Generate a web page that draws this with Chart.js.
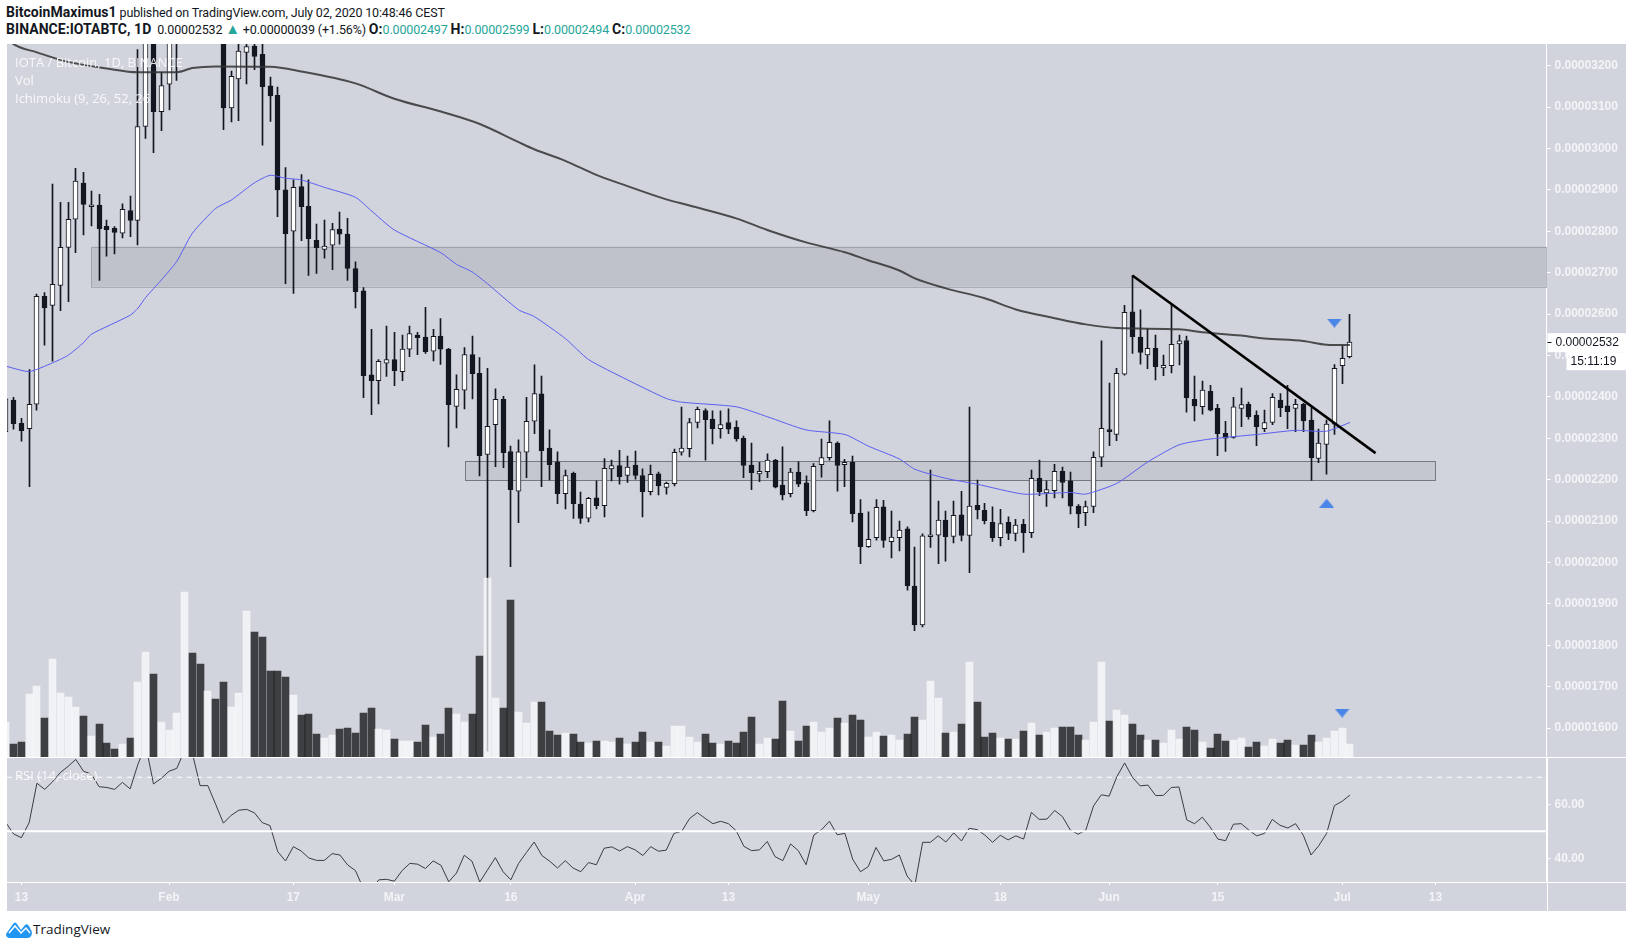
<!DOCTYPE html>
<html>
<head>
<meta charset="utf-8">
<title>IOTABTC</title>
<script src="https://cdn.jsdelivr.net/npm/chart.js@4/dist/chart.umd.min.js"></script>
<style>
    html, body { margin: 0; background: #fff; width: 1633px; height: 948px; overflow: hidden; }
    body { position: relative; font-family: "Open Sans", "Noto Sans", sans-serif; color: #131722; }
    #panel { position: absolute; left: 7px; top: 44px; width: 1619px; height: 867px; background: #d1d4dc; }
    canvas { position: absolute; left: 7px; }
    #priceChart { top: 44px; }
    #rsiChart { top: 757px; }
    .head { position: absolute; left: 6px; font-family: Roboto, sans-serif; font-size: 12.5px; letter-spacing: -0.15px; line-height: 18px; white-space: nowrap; }
    .head b { font-weight: 700; font-size: 14px; letter-spacing: 0.05px; }
    .teal { color: #26a69a; }
    .arrow { font-size: 15px; line-height: 14px; }
    .pane { position: absolute; left: 15px; font-size: 13px; line-height: 16px; color: rgba(255, 255, 255, 0.85); white-space: nowrap; z-index: 5; }
    #logo { position: absolute; left: 6px; top: 921px; }
    #brand { position: absolute; left: 33px; top: 920px; font-size: 13.5px; line-height: 18px; }
</style>
</head>
<body>
<div class="head" style="top:3px"><b>BitcoinMaximus1</b> published on TradingView.com, July 02, 2020 10:48:46 CEST</div>
<div class="head" style="top:20px"><b>BINANCE:IOTABTC, 1D</b>&nbsp; 0.00002532 <span class="teal arrow">▲</span> +0.00000039 (+1.56%) <b>O:</b><span class="teal">0.00002497</span> <b>H:</b><span class="teal">0.00002599</span> <b>L:</b><span class="teal">0.00002494</span> <b>C:</b><span class="teal">0.00002532</span></div>
<div id="panel"></div>
<canvas id="priceChart" width="1619" height="713"></canvas>
<canvas id="rsiChart" width="1619" height="154"></canvas>
<div class="pane" style="top:54px">IOTA / Bitcoin, 1D, BINANCE</div>
<div class="pane" style="top:72px">Vol</div>
<div class="pane" style="top:90px">Ichimoku (9, 26, 52, 26</div>
<div class="pane" style="top:767px">RSI (14, close)</div>
<svg id="logo" width="26" height="17" viewBox="0 0 26 17"><path d="M0 13 L7 3 Q9 0 11 3 L15 9 L19 4 Q21 2 23 5 L26 11 Q26 17 21 17 L4 17 Q0 17 0 13 Z" fill="#2196f3"/><path d="M3 12 L9 5 L15 12 L20 7 L24 12" fill="none" stroke="#fff" stroke-width="1.5"/></svg>
<div id="brand">TradingView</div>

<script>
// prices are in satoshi (1e-8 BTC), one entry per day starting two days before Jan 13
const firstDay = -2;
const opens = [
    2316,2392,2336,2323,2382,2643,2621,2669,2761,2829,
    2916,2859,2863,2812,2807,2795,2850,2826,3053,3330,
    3089,3155,3280,3300,3420,3380,3340,3390,3350,3098,
    3168,3232,3247,3227,3151,3128,2900,2800,2908,2860,
    2778,2756,2766,2805,2793,2710,2656,2453,2439,2481,
    2490,2461,2515,2549,2544,2510,2547,2515,2377,2416,
    2502,2457,2261,2333,2394,2268,2172,2266,2341,2407,
    2276,2243,2166,2215,2141,2107,2156,2137,2226,2234,
    2210,2235,2210,2171,2214,2181,2190,2266,2275,2338,
    2367,2346,2323,2338,2326,2300,2235,2214,2219,2247,
    2187,2166,2218,2192,2125,2236,2253,2288,2236,2242,
    2119,2038,2060,2134,2050,2060,2081,1943,1849,2062,
    2066,2102,2063,2115,2065,2138,2126,2097,2060,2097,
    2070,2092,2072,2203,2168,2173,2220,2197,2136,2120,
    2135,2254,2320,2309,2455,2605,2544,2501,2517,2470,
    2475,2528,2536,2394,2376,2413,2372,2312,2302,2372,
    2382,2356,2323,2338,2392,2378,2372,2382,2344,2251,
    2285,2334,2475,2497
];
const highs = [
    2400,2399,2348,2466,2648,2652,2914,2870,2870,2952,
    2942,2897,2889,2827,2811,2866,2885,3239,3400,3400,
    3183,3350,3380,3480,3450,3400,3420,3420,3380,3187,
    3290,3290,3280,3280,3172,3148,2954,2924,2937,2924,
    2817,2827,2819,2846,2831,2726,2664,2563,2490,2571,
    2556,2549,2571,2556,2616,2563,2589,2517,2453,2519,
    2547,2495,2469,2419,2401,2281,2296,2399,2477,2450,
    2320,2267,2223,2218,2170,2157,2197,2251,2247,2271,
    2257,2269,2226,2235,2218,2194,2274,2375,2348,2375,
    2371,2366,2366,2371,2342,2305,2288,2242,2262,2249,
    2279,2227,2243,2209,2239,2298,2342,2291,2249,2257,
    2152,2122,2152,2150,2124,2100,2086,2037,2069,2223,
    2148,2124,2148,2172,2375,2199,2143,2134,2128,2110,
    2104,2104,2223,2247,2197,2237,2230,2218,2140,2148,
    2267,2535,2433,2469,2621,2693,2610,2565,2549,2501,
    2621,2549,2547,2450,2438,2428,2382,2341,2399,2421,
    2387,2366,2368,2408,2408,2428,2394,2384,2374,2322,
    2344,2478,2523,2599
];
const lows = [
    2310,2322,2293,2183,2368,2525,2486,2608,2630,2748,
    2791,2813,2681,2740,2745,2784,2787,2767,3024,2990,
    3043,3093,3164,3270,3340,3300,3310,3320,3045,3064,
    3067,3156,3190,3008,3065,2835,2673,2650,2777,2693,
    2698,2735,2707,2769,2681,2615,2398,2357,2383,2449,
    2427,2439,2497,2502,2505,2487,2478,2279,2325,2371,
    2395,2209,1544,2231,2229,1990,2096,2205,2311,2183,
    2199,2142,2129,2106,2094,2098,2129,2110,2197,2189,
    2193,2201,2110,2163,2163,2165,2185,2259,2255,2325,
    2247,2286,2300,2311,2293,2205,2176,2195,2205,2180,
    2151,2158,2183,2113,2122,2206,2247,2172,2183,2098,
    1997,2036,2054,2036,2011,2028,1933,1835,1844,2036,
    1997,2003,2047,2052,1975,2105,2093,2051,2040,2055,
    2052,2024,2060,2161,2135,2156,2156,2117,2084,2089,
    2120,2231,2282,2294,2452,2505,2479,2468,2441,2451,
    2458,2477,2363,2342,2358,2366,2258,2268,2300,2328,
    2346,2282,2316,2333,2352,2323,2316,2316,2198,2241,
    2213,2309,2432,2494
];
const closes = [
    2395,2335,2318,2382,2643,2615,2672,2761,2829,2921,
    2865,2861,2806,2804,2797,2853,2826,3053,3330,3089,
    3152,3300,3300,3420,3380,3340,3390,3350,3098,3174,
    3235,3246,3222,3149,3127,2900,2794,2906,2859,2782,
    2760,2764,2804,2793,2710,2654,2451,2439,2486,2490,
    2463,2515,2553,2543,2509,2546,2515,2381,2418,2502,
    2456,2258,2329,2394,2265,2176,2267,2341,2408,2270,
    2236,2166,2210,2142,2106,2155,2137,2227,2234,2207,
    2230,2210,2171,2213,2185,2191,2266,2276,2338,2370,
    2345,2323,2333,2322,2298,2234,2217,2220,2247,2182,
    2163,2218,2189,2125,2232,2253,2290,2234,2242,2118,
    2038,2056,2133,2053,2061,2078,1944,1849,2064,2066,
    2102,2062,2114,2065,2136,2127,2101,2060,2094,2070,
    2090,2072,2203,2170,2176,2220,2193,2136,2117,2135,
    2254,2324,2316,2457,2604,2545,2507,2517,2473,2476,
    2527,2535,2398,2378,2416,2368,2311,2300,2376,2381,
    2352,2328,2338,2399,2374,2364,2382,2342,2253,2288,
    2334,2469,2493,2532
];
const volumes = [
    105,39,45,189,213,117,294,192,180,150,
    123,63,99,42,24,39,57,225,315,249,
    105,81,132,495,312,279,198,174,225,150,
    192,438,375,360,258,258,240,186,126,129,
    69,57,66,84,87,72,132,147,84,81,
    54,48,48,45,96,60,69,147,129,105,
    129,303,537,177,147,471,135,102,165,165,
    78,66,72,69,45,42,48,48,45,57,
    39,45,75,45,45,33,93,93,60,45,
    69,42,39,48,42,75,120,39,57,54,
    168,78,48,93,105,75,87,117,102,126,
    111,60,75,63,66,51,69,120,111,228,
    177,72,75,99,285,165,60,72,57,54,
    54,78,102,66,75,87,90,90,66,51,
    105,285,108,141,126,99,66,51,51,42,
    81,54,90,81,45,27,69,48,51,57,
    30,45,33,54,42,51,36,36,66,45,
    57,78,87,39
];
const rsiValues = [
    53.2,49,47.6,53.2,67.8,65.5,68.3,71.7,74,76.6,
    72.2,71.2,66.5,66.2,65.5,68.1,65.7,74.8,82,67.5,
    69.6,72.2,73.3,80,78.9,66.9,66.9,60,53,55.9,
    57.8,58.1,56.8,53.2,52.1,42.4,39,44.3,42.7,40.1,
    39.2,39.2,41.7,41.2,37.5,35.4,28.9,28.3,32,32.2,
    31.5,35.4,38.1,37.8,36.2,39,37.4,31.3,34.5,41.1,
    38.9,31.2,35.7,40.2,35,32,38.1,42.1,46,41,
    38.9,36.4,39.1,36.4,35,38.4,37.6,43.7,44.2,42.7,
    44.3,43.1,41,44.3,42.6,43,49.2,50,54.7,56.9,
    54.8,52.8,53.7,52.8,50.2,44.4,42.8,43.1,46.2,40.6,
    39.1,45.3,42.8,37.6,48.6,50.6,53.7,48.7,49.2,39.6,
    35,36.9,44,39,39.6,41.2,33.4,30,45.9,45.9,
    48.3,46,49.4,46.4,51.1,50.6,48.6,45.9,48.5,46.8,
    48.3,47.1,57,54.4,54.5,57.7,55.4,50.5,48.9,50.4,
    59.4,63.5,63,70.2,75.3,70,66.8,67.1,63.2,63.3,
    66.2,66.4,54.2,52.8,55.2,51.6,47.1,46.5,52.6,52.8,
    50.4,48.3,49.2,54.4,52.2,51.2,52.8,48.5,41.2,44.7,
    49.2,59.5,61.1,63.4
];

const slowMaDays = [-2,-1,2,6,11,15,20,22,25,32,36,43,48,54,59,64,66,70,74,78,83,86,92,96,101,106,109,113,115,119,124,128,133,137,141,149,152,157,160,165,168,171];
const slowMaValues = [3270,3252,3232,3209,3193,3184,3184,3194,3198,3197,3186,3157,3120,3089,3059,3015,2998,2970,2936,2909,2877,2862,2831,2803,2773,2749,2730,2705,2686,2662,2638,2611,2590,2575,2566,2563,2556,2548,2541,2535,2526,2525];
const fastMaDays = [-2,1,4,6,8,9,14,15,16,18,20,22,25,27,30,32,34,36,39,43,45,48,54,56,58,60,64,66,70,73,78,83,85,92,96,101,106,109,113,115,119,123,129,135,137,141,145,149,153,159,164,168,171];
const fastMaValues = [2474,2461,2482,2500,2531,2551,2597,2614,2640,2682,2727,2795,2855,2875,2917,2935,2928,2924,2906,2882,2850,2803,2748,2720,2702,2673,2610,2594,2541,2490,2441,2396,2387,2376,2352,2320,2309,2281,2250,2225,2203,2189,2165,2169,2165,2191,2243,2284,2298,2309,2319,2317,2338];

const trendDays = [143, 174.3];
const trendValues = [2693, 2264];
const arrowDownDays = [169, 170];
const arrowDownValues = [2578, 1636];
const arrowUpDays = [168];
const arrowUpValues = [2143];

// shaded zones: first day, last day, top price, bottom price
const upperZone = [9, 197, 2763, 2666];
const lowerZone = [57.1, 182, 2244, 2198];

const priceTicks = [1600,1700,1800,1900,2000,2100,2200,2300,2400,2500,2600,2700,2800,2900,3000,3100,3200];
const rsiTicks = [40, 60];
const timeTickDays = [0, 19, 35, 48, 63, 79, 91, 109, 126, 140, 154, 170, 182];
const timeTickLabels = ['13', 'Feb', '17', 'Mar', '16', 'Apr', '13', 'May', '18', 'Jun', '15', 'Jul', '13'];
const lastPrice = 2532;

const dayMin = -1.853;
const dayMax = 196.3;
const candleDark = '#131722';
const axisText = '#f3f4f7';

function points(days, values) {
    return days.map((d, i) => ({ x: d, y: values[i] }));
}

const days = opens.map((_, i) => firstDay + i);
const isUp = closes.map((c, i) => c >= opens[i]);

function arrowImage(up) {
    const c = document.createElement('canvas');
    c.width = 15;
    c.height = 9;
    const g = c.getContext('2d');
    g.fillStyle = '#4a86e8';
    g.beginPath();
    if (up) {
        g.moveTo(7.5, 0); g.lineTo(15, 9); g.lineTo(0, 9);
    } else {
        g.moveTo(0, 0); g.lineTo(15, 0); g.lineTo(7.5, 9);
    }
    g.fill();
    return c;
}

// scale keeps half a label of padding at both ends by default, the plot has to fill the pane
function fitRightAxis(scale) {
    scale.width = 79.5;
    scale.paddingTop = 0;
    scale.paddingBottom = 0;
}

function fitTimeAxis(scale) {
    scale.height = 29;
    scale.paddingLeft = 0;
    scale.paddingRight = 0;
}

// keeps thin bars on whole pixels, otherwise wicks come out blurry
const snapBars = {
    id: 'snapBars',
    beforeDatasetsDraw(chart) {
        chart.getSortedVisibleDatasetMetas().forEach((meta) => {
            if (meta.type !== 'bar') return;
            meta.data.forEach((el) => { el.x = Math.floor(el.x) + 0.5; });
        });
    }
};

function drawZone(chart, zone, stroke, fill) {
    const ctx = chart.ctx;
    const x = chart.scales.x;
    const y = chart.scales.y;
    const left = x.getPixelForValue(zone[0]);
    const right = Math.min(x.getPixelForValue(zone[1]), chart.chartArea.right);
    const top = y.getPixelForValue(zone[2]);
    const bottom = y.getPixelForValue(zone[3]);
    ctx.fillStyle = fill;
    ctx.fillRect(left, top, right - left, bottom - top);
    ctx.strokeStyle = stroke;
    ctx.lineWidth = 1;
    ctx.strokeRect(Math.round(left) + 0.5, Math.round(top) + 0.5, Math.round(right - left), Math.round(bottom - top));
}

const zones = {
    id: 'zones',
    beforeDatasetsDraw(chart) {
        drawZone(chart, upperZone, 'rgba(120, 123, 134, 0.45)', 'rgba(120, 123, 134, 0.2)');
        drawZone(chart, lowerZone, 'rgba(90, 92, 98, 0.75)', 'rgba(120, 123, 134, 0.14)');
    }
};

const priceTag = {
    id: 'priceTag',
    afterDraw(chart) {
        const ctx = chart.ctx;
        const y = chart.scales.y.getPixelForValue(lastPrice);
        const left = chart.chartArea.right + 1;
        ctx.save();
        ctx.fillStyle = '#fff';
        ctx.fillRect(left, y - 9, 79, 19);
        ctx.fillRect(left + 19, y + 10, 60, 18);
        ctx.fillStyle = '#131722';
        ctx.fillRect(left, Math.round(y), 4, 1);
        ctx.font = '12px "Liberation Sans"';
        ctx.textBaseline = 'middle';
        ctx.fillText('0.00002532', left + 8, y + 1);
        ctx.fillText('15:11:19', left + 23, y + 20);
        ctx.restore();
    }
};

// pane separators and the part of the price scale border running past the plot
const rsiFrame = {
    id: 'rsiFrame',
    beforeDatasetsDraw(chart) {
        const ctx = chart.ctx;
        const area = chart.chartArea;
        ctx.save();
        ctx.fillStyle = 'rgba(255, 255, 255, 0.07)';
        const top = chart.scales.y.getPixelForValue(70);
        ctx.fillRect(area.left, top, area.right - area.left, area.bottom - top);
        ctx.restore();
    },
    afterDraw(chart) {
        const ctx = chart.ctx;
        const area = chart.chartArea;
        ctx.save();
        ctx.fillStyle = '#fff';
        ctx.fillRect(0, 0, chart.width, 1);
        ctx.fillRect(0, Math.round(area.bottom), chart.width, 1);
        ctx.fillRect(Math.round(area.right), 0, 1, chart.height);
        ctx.restore();
    }
};

function renderPriceChart() {
    const data = {
        datasets: [
            {
                type: 'bar',
                label: 'Vol',
                yAxisID: 'yVol',
                data: points(days, volumes),
                backgroundColor: isUp.map((u) => (u ? 'rgba(255, 255, 255, 0.7)' : 'rgba(0, 0, 0, 0.7)')),
                barThickness: 7,
                grouped: false,
                order: 2
            },
            {
                type: 'bar',
                label: 'wick',
                data: days.map((d, i) => ({ x: d, y: [lows[i], highs[i]] })),
                backgroundColor: candleDark,
                barThickness: 1,
                grouped: false,
                order: 6
            },
            {
                type: 'bar',
                label: 'body',
                data: days.map((d, i) => ({ x: d, y: [opens[i], closes[i]] })),
                backgroundColor: isUp.map((u) => (u ? '#ffffff' : candleDark)),
                borderColor: candleDark,
                borderWidth: 1,
                borderSkipped: false,
                barThickness: 5,
                minBarLength: 2,
                grouped: false,
                order: 5
            },
            {
                type: 'line',
                label: 'slow MA',
                data: points(slowMaDays, slowMaValues),
                borderColor: 'rgba(50, 50, 52, 0.85)',
                borderWidth: 2,
                pointRadius: 0,
                cubicInterpolationMode: 'monotone',
                order: 4
            },
            {
                type: 'line',
                label: 'fast MA',
                data: points(fastMaDays, fastMaValues),
                borderColor: '#5b5ef0',
                borderWidth: 1,
                pointRadius: 0,
                tension: 0.2,
                order: 3
            },
            {
                type: 'line',
                label: 'trend',
                data: points(trendDays, trendValues),
                borderColor: '#000000',
                borderWidth: 2.5,
                pointRadius: 0,
                order: 1
            },
            {
                type: 'line',
                label: 'arrows down',
                data: points(arrowDownDays, arrowDownValues),
                showLine: false,
                pointStyle: arrowImage(false),
                pointRadius: 8,
                order: 0
            },
            {
                type: 'line',
                label: 'arrows up',
                data: points(arrowUpDays, arrowUpValues),
                showLine: false,
                pointStyle: arrowImage(true),
                pointRadius: 8,
                order: 0
            }
        ]
    };

    new Chart(document.getElementById('priceChart'), {
        type: 'bar',
        data: data,
        plugins: [zones, snapBars, priceTag],
        options: {
            responsive: false,
            devicePixelRatio: 1,
            animation: false,
            events: [],
            layout: { padding: 0, autoPadding: false },
            plugins: { legend: { display: false }, tooltip: { enabled: false } },
            scales: {
                x: { type: 'linear', display: false, offset: false, min: dayMin, max: dayMax },
                y: {
                    position: 'right',
                    min: 1530,
                    max: 3252.2,
                    afterFit: fitRightAxis,
                    afterBuildTicks: (scale) => { scale.ticks = priceTicks.map((v) => ({ value: v })); },
                    border: { color: '#ffffff' },
                    grid: { drawOnChartArea: false, color: '#ffffff', tickLength: 4 },
                    ticks: {
                        color: axisText,
                        padding: 4,
                        font: { family: '"Liberation Sans"', size: 12, weight: 'bold' },
                        callback: (v) => (v / 1e8).toFixed(8)
                    }
                },
                yVol: { display: false, min: 0, max: 2139 }
            }
        }
    });
}

function renderRsiChart() {
    const data = {
        datasets: [
            {
                label: '70',
                data: points([dayMin, dayMax], [70, 70]),
                borderColor: '#ffffff',
                borderWidth: 1,
                borderDash: [5, 5],
                pointRadius: 0
            },
            {
                label: '50',
                data: points([dayMin, dayMax], [50, 50]),
                borderColor: '#ffffff',
                borderWidth: 2,
                pointRadius: 0
            },
            {
                label: 'RSI',
                data: points(days, rsiValues),
                borderColor: '#3a3c44',
                borderWidth: 1,
                pointRadius: 0
            }
        ]
    };

    new Chart(document.getElementById('rsiChart'), {
        type: 'line',
        data: data,
        plugins: [rsiFrame],
        options: {
            responsive: false,
            devicePixelRatio: 1,
            animation: false,
            events: [],
            layout: { padding: 0, autoPadding: false },
            plugins: { legend: { display: false }, tooltip: { enabled: false } },
            scales: {
                x: {
                    type: 'linear',
                    min: dayMin,
                    max: dayMax,
                    afterFit: fitTimeAxis,
                    afterBuildTicks: (scale) => { scale.ticks = timeTickDays.map((v) => ({ value: v })); },
                    border: { color: '#ffffff' },
                    grid: { drawOnChartArea: false, color: '#ffffff', tickLength: 3 },
                    ticks: {
                        color: axisText,
                        autoSkip: false,
                        maxRotation: 0,
                        padding: 5,
                        font: { family: '"Liberation Sans"', size: 12, weight: 'bold' },
                        callback: (v) => timeTickLabels[timeTickDays.indexOf(v)]
                    }
                },
                y: {
                    position: 'right',
                    min: 31.2,
                    max: 77.5,
                    afterFit: fitRightAxis,
                    afterBuildTicks: (scale) => { scale.ticks = rsiTicks.map((v) => ({ value: v })); },
                    border: { color: '#ffffff' },
                    grid: { drawOnChartArea: false, color: '#ffffff', tickLength: 4 },
                    ticks: {
                        color: axisText,
                        padding: 4,
                        font: { family: '"Liberation Sans"', size: 12, weight: 'bold' },
                        callback: (v) => v.toFixed(2)
                    }
                }
            }
        }
    });
}

renderPriceChart();
renderRsiChart();
</script>
</body>
</html>
